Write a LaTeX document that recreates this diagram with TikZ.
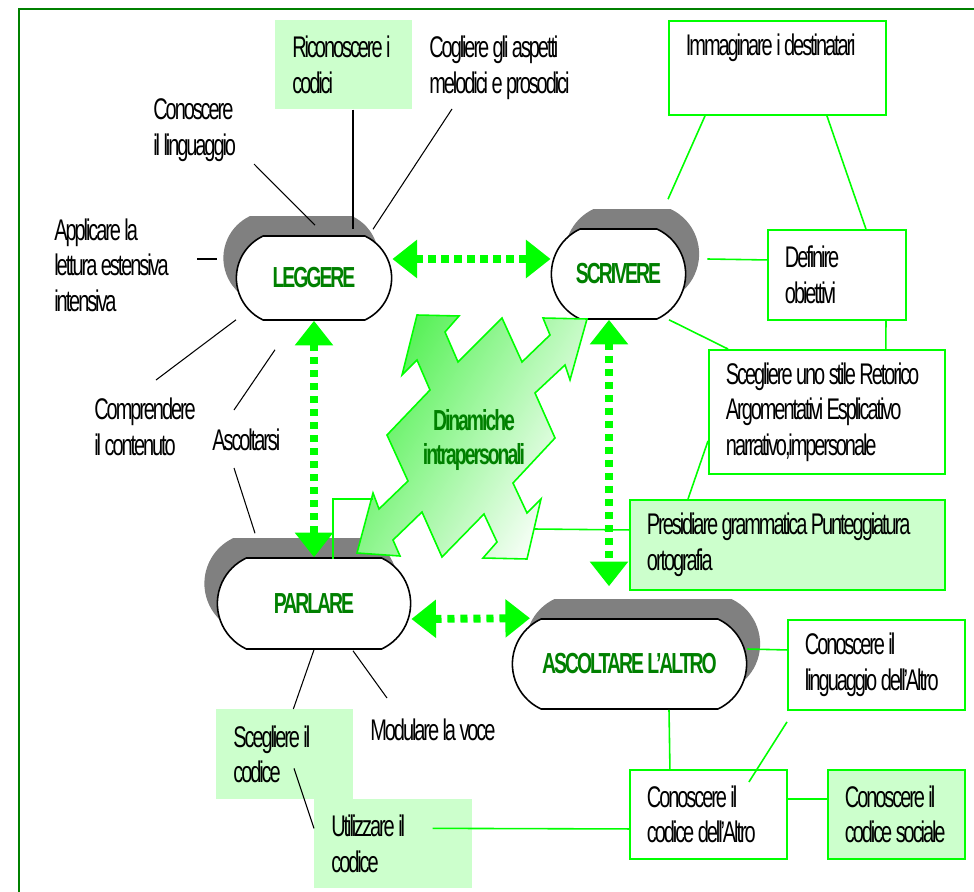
\documentclass[tikz,border=0pt]{standalone}
\usepackage{fontspec}
\setmainfont{Liberation Sans}[FakeStretch=0.67,LetterSpace=-7]
\usepackage{xcolor}
\usepackage{tikz}
\usetikzlibrary{arrows.meta}
\usetikzlibrary{shapes.misc}
\usetikzlibrary{shadows}

\definecolor{verdescuro}{RGB}{0,128,0}
\definecolor{verdevivo}{RGB}{0,255,0}
\definecolor{verdechiaro}{RGB}{204,255,204}
\definecolor{verdesfum}{RGB}{80,240,80}
\definecolor{ombra}{RGB}{128,128,128}

\begin{document}
\begin{tikzpicture}[x=0.02cm,y=-0.02cm,
  font=\fontsize{17}{20.2}\selectfont,
  pill/.style={rounded rectangle, rounded rectangle arc length=130, draw=black, line width=0.9pt,
    fill=white, font=\fontsize{16.5}{19}\selectfont\bfseries, text=verdescuro},
  ombrasx/.style={general shadow={fill=ombra, shadow xshift=-0.26cm, shadow yshift=0.4cm}},
  ombradx/.style={general shadow={fill=ombra, shadow xshift=0.27cm, shadow yshift=0.4cm}},
  etich/.style={inner sep=0pt, anchor=west, align=flush left},
  casella/.style={anchor=north west, inner xsep=0.34cm, inner ysep=0pt, align=flush left},
  piena/.style={casella, fill=verdechiaro},
  bordo/.style={casella, draw=verdevivo, line width=1.1pt, fill=white},
  pienabordo/.style={bordo, fill=verdechiaro},
  nero/.style={black, line width=0.6pt},
  verde/.style={verdevivo, line width=0.9pt},
  freccia/.style={verdevivo, line width=4.5pt, dash pattern=on 4pt off 3.4pt,
    >={Triangle[length=14pt,width=21pt]}, <->},
  fulmine/.style={draw=verdevivo, line width=0.9pt, top color=verdesfum, bottom color=white, shading angle=60}]
\useasboundingbox (0,0) rectangle (974,892);
\draw[verdescuro, line width=0.7pt] (19,892) -- (19,9) -- (974,9);

% i quattro nodi centrali
\node[pill, ombrasx, minimum width=3.34cm, minimum height=1.68cm] (leggere) at (314,278) {LEGGERE};
\node[pill, ombradx, minimum width=2.92cm, minimum height=1.8cm] (scrivere) at (618.5,274) {SCRIVERE};
\node[pill, ombrasx, minimum width=4.1cm, minimum height=1.82cm] (parlare) at (314,603.5) {PARLARE};
\node[pill, ombradx, minimum width=4.92cm, minimum height=1.8cm] (ascoltare) at (629.5,664) {ASCOLTARE L'ALTRO};

% freccia a zig-zag
\draw[fulmine] plot coordinates {(417,315) (459,316) (445,332) (458,362) (502,318) (522,362) (550,335)
  (543,318) (587,319) (570,380) (565,365) (535,393) (555,438) (513,483) (527,513) (541,499) (527,559)
  (483,558) (497,542) (484,514) (442,557) (422,512) (393,540) (400,556) (357,553) (373,493) (379,509)
  (408,481) (387,435) (430,390) (417,360) (402,375)} -- cycle;
\coordinate (dinam-sx) at (373,499);
\coordinate (dinam-dx) at (534,529);
\node[font=\fontsize{16.5}{19.5}\selectfont\bfseries, text=verdescuro, align=center] (dinam) at (474,440) {Dinamiche\\intrapersonali};

% caselle
\node[piena, text width=2.06cm, minimum height=1.78cm] (riconosc) at (275,20) {Riconoscere~i\\codici};
\node[piena, text width=2.06cm, minimum height=1.8cm] (scegcod) at (216,709) {Scegliere~il\\codice};
\node[piena, text width=2.48cm, minimum height=1.78cm] (utilcod) at (314,799) {Utilizzare~il\\codice};
\node[bordo, text width=3.66cm, minimum height=1.88cm] (immag) at (668,20) {Immaginare~i~destinatari\\\strut};
\node[bordo, text width=2.08cm, minimum height=1.8cm] (defin) at (767,229) {Definire\\obiettivi};
\node[bordo, text width=4.04cm, minimum height=2.48cm] (stile) at (708,349)
  {Scegliere~uno~stile~Retorico\\Argomentativi~Esplicativo\\narrativo,impersonale};
\node[pienabordo, text width=5.62cm, minimum height=1.8cm] (presid) at (629,499)
  {Presidiare~grammatica~Punteggiatura\\ortografia};
\node[bordo, text width=2.86cm, minimum height=1.8cm] (lingalt) at (787,619) {Conoscere~il\\linguaggio~dell'Altro};
\node[bordo, text width=2.46cm, minimum height=1.78cm] (codalt) at (629,769) {Conoscere~il\\codice~dell'Altro};
\node[pienabordo, text width=2.06cm, minimum height=1.78cm] (codsoc) at (827,769) {Conoscere~il\\codice~sociale};

% etichette libere
\node[etich] (conosc) at (153,130) {Conoscere\\il linguaggio};
\node[etich] (applic) at (54,265) {Applicare la\\lettura estensiva\\intensiva};
\node[etich] (cogli) at (429,68) {Cogliere gli aspetti\\melodici e prosodici};
\node[etich] (compr) at (94,427) {Comprendere\\il contenuto};
\node[etich] (ascoltarsi) at (212,440) {Ascoltarsi};
\node[etich] (modul) at (370,730) {Modulare la voce};

% linee nere
\draw[nero] ([shift={(101,34)}]conosc.west) -- ([shift={(1,-10)}]leggere.north);
\draw[nero] ([shift={(78,0)}]riconosc.south west) -- ([shift={(39,-6)}]leggere.north);
\draw[nero] ([shift={(23,41)}]cogli.west) -- ([shift={(59,-6)}]leggere.north);
\draw[nero] ([shift={(143,-6)}]applic.west) -- ([shift={(-19,-19)}]leggere.west);
\draw[nero] ([shift={(62,-47)}]compr.west) -- ([shift={(-78,-1)}]leggere.south);
\draw[nero] ([shift={(22,-30)}]ascoltarsi.west) -- ([shift={(-39,29)}]leggere.south);
\draw[nero] ([shift={(22,28)}]ascoltarsi.west) -- ([shift={(-59,-24)}]parlare.north);
\draw[nero] (parlare.south) -- ([shift={(8.5,0)}]scegcod.north);
\draw[nero] ([shift={(39,1)}]parlare.south) -- ([shift={(17,-32)}]modul.west);
\draw[nero] ([shift={(78,14)}]scegcod.west) -- ([shift={(0,-15.5)}]utilcod.west);

% linee verdi
\draw[verde] ([shift={(37,0)}]immag.south west) -- ([shift={(49.5,-29)}]scrivere.north);
\draw[verde] ([shift={(49.5,0)}]immag.south) -- ([shift={(29,0)}]defin.north);
\draw[verde] ([shift={(21,-15)}]scrivere.east) -- ([shift={(0,-15)}]defin.west);
\draw[verde] ([shift={(49,0)}]defin.south) -- ([shift={(59,0)}]stile.north);
\draw[verde] ([shift={(50.5,0)}]scrivere.south) -- ([shift={(20,0)}]stile.north west);
\draw[verde] ([shift={(0,29)}]stile.west) -- ([shift={(59,0)}]presid.north west);
\draw[verde] ([shift={(0,-15)}]presid.west) -- (dinam-dx);
\draw[verde] ([shift={(19,2)}]parlare.north) |- (dinam-sx);
\draw[verde] ([shift={(39.5,0)}]ascoltare.south) -- ([shift={(-38.5,0)}]codalt.north);
\draw[verde] ([shift={(0,-15)}]ascoltare.east) -- ([shift={(0,-15)}]lingalt.west);
\draw[verde] ([shift={(0,11)}]lingalt.south west) -- ([shift={(-39,13)}]codalt.north east);
\draw[verde] ([shift={(0,-15.5)}]codalt.east) -- ([shift={(0,-15.5)}]codsoc.west);
\draw[verde] ([shift={(-40,-15.5)}]utilcod.east) -- ([shift={(0,14.5)}]codalt.west);

% frecce tratteggiate
\coordinate (ls) at ([shift={(0,-19)}]leggere.east);
\draw[freccia] (ls) -- (ls -| scrivere.west);
\draw[freccia] (leggere.south) -- (parlare.north);
\draw[freccia] ([shift={(-9.5,0)}]scrivere.south) -- ([shift={(-20.5,-32)}]ascoltare.north);
\draw[freccia] ([shift={(0,15.5)}]parlare.east) -- ([shift={(-99.5,0)}]ascoltare.north);
\end{tikzpicture}
\end{document}
